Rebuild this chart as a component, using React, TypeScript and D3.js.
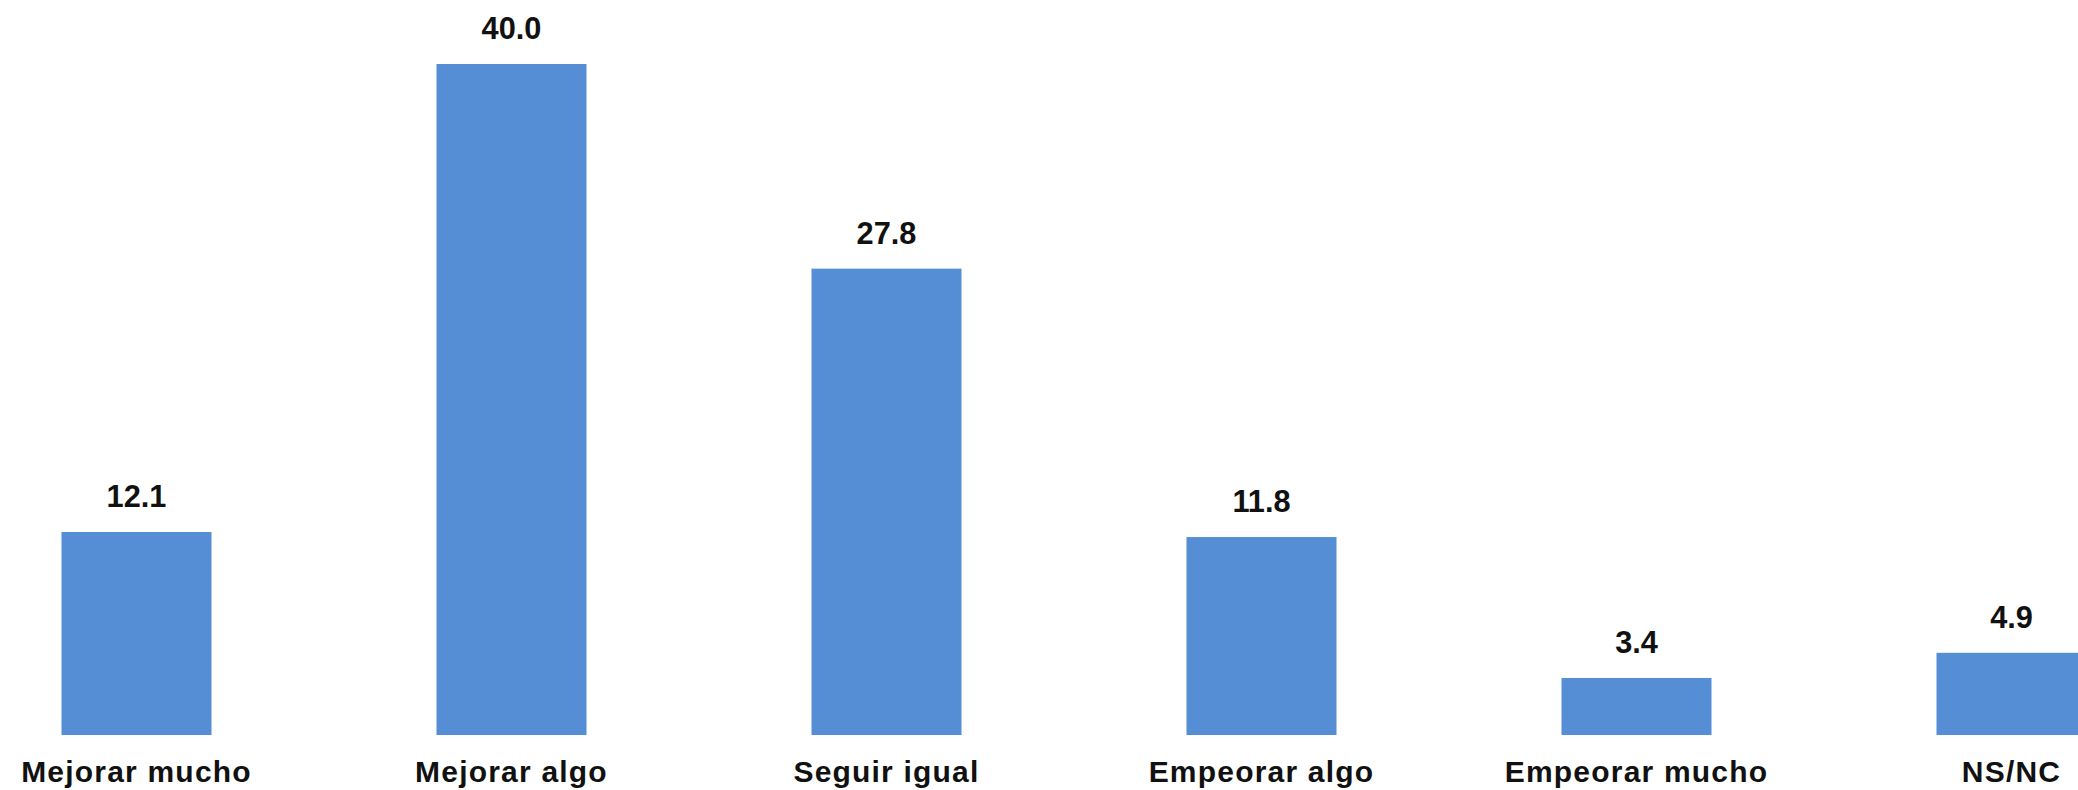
import React from 'react'
import * as d3 from 'd3'

const categories = ['Mejorar mucho', 'Mejorar algo', 'Seguir igual', 'Empeorar algo', 'Empeorar mucho', 'NS/NC']
const values = [12.1, 40.0, 27.8, 11.8, 3.4, 4.9]

const W = 2078
const H = 790

export default function App() {
  const x = d3.scaleBand<string>()
    .domain(categories)
    .range([-51, 2199])
    .paddingInner(0.6)
    .paddingOuter(0.3)

  const y = d3.scaleLinear()
    .domain([0, 40])
    .range([735, 64])

  const bw = x.bandwidth()
  const font = '"Liberation Sans", Arial, sans-serif'

  return (
    <svg width={W} height={H} style={{ position: 'absolute', left: 0, top: 0, background: '#fff' }}>
      {values.map((v, i) => {
        const cx = x(categories[i])! + bw / 2
        return (
          <g key={categories[i]}>
            <rect x={x(categories[i])} y={y(v)} width={bw} height={y(0) - y(v)} fill="#558ed5" />
            <text
              x={cx} y={y(v) - 25}
              textAnchor="middle"
              fontFamily={font} fontWeight="bold" fontSize={32}
              fill="#111"
              transform={`translate(${cx},0) scale(0.96,1) translate(${-cx},0)`}
            >
              {d3.format('.1f')(v)}
            </text>
            <text
              x={cx} y={782}
              textAnchor="middle"
              fontFamily={font} fontWeight="bold" fontSize={30}
              letterSpacing={1.2}
              fill="#111"
            >
              {categories[i]}
            </text>
          </g>
        )
      })}
    </svg>
  )
}
